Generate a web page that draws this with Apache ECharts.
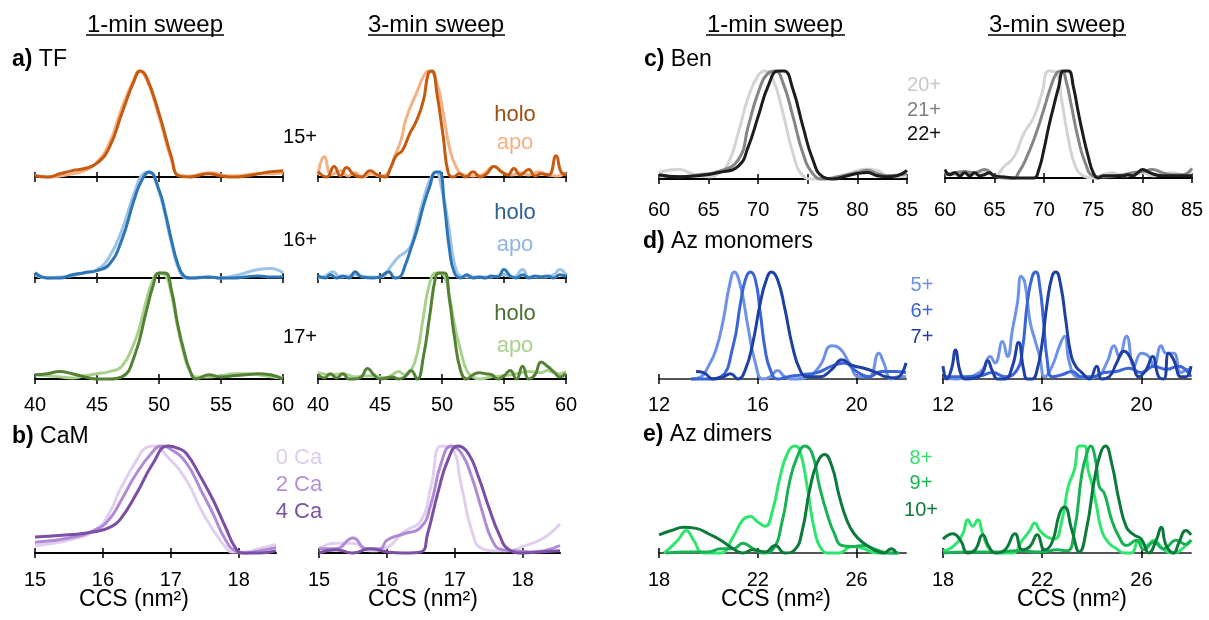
<!DOCTYPE html>
<html>
<head>
<meta charset="utf-8">
<script src="https://cdn.jsdelivr.net/npm/echarts@6/dist/echarts.min.js"></script>
<style>
  html, body { margin: 0; padding: 0; background: #fff; }
  #main { width: 1209px; height: 620px; }
</style>
</head>
<body>
<div id="main"></div>
<script>
// ---- data: [CCS, normalised intensity] ----
// a) TF, 15+
var tf15_1min_apo = [[40,0.02],[41,0.0],[42,0.01],[43,0.03],[44,0.06],[45,0.14],[46,0.32],[47,0.65],[48,0.93],[48.4,1.0],[49,0.92],[50,0.57],[51,0.16],[51.6,0.02],[52.5,0.01],[53.5,0.03],[54.3,0.04],[55,0.02],[56,0.01],[57,0.02],[58,0.03],[59,0.03],[60,0.04]];
var tf15_1min_holo = [[40,0.01],[41,0.0],[42,0.03],[43,0.06],[44,0.08],[45,0.13],[46,0.28],[47,0.6],[48,0.91],[48.5,1.0],[49,0.94],[50,0.6],[51,0.19],[51.6,0.01],[52.5,0.0],[53,0.01],[54,0.03],[55,0.01],[56,0.0],[57,0.01],[58,0.03],[59,0.05],[60,0.06]];
var tf15_3min_apo = [[40,0.02],[40.5,0.19],[41.1,0.02],[41.8,0.06],[42.4,0.01],[43.0,0.04],[43.6,0.0],[44.3,0.03],[45.0,0.01],[45.7,0.05],[46.2,0.2],[46.7,0.35],[47.1,0.55],[47.9,0.78],[48.6,0.97],[49.0,1.0],[49.6,0.88],[50.1,0.6],[50.6,0.28],[51.2,0.08],[51.8,0.02],[52.5,0.01],[53.2,0.02],[54.2,0.1],[54.9,0.04],[55.6,0.02],[56.3,0.04],[57.0,0.02],[57.8,0.05],[58.5,0.02],[59.3,0.01],[60,0.04]];
var tf15_3min_holo = [[40,0.05],[40.7,0.0],[41.3,0.1],[41.8,0.01],[42.3,0.09],[42.9,0.02],[43.5,0.0],[44.2,0.06],[44.8,0.02],[45.4,0.0],[45.9,0.1],[46.3,0.2],[46.8,0.25],[47.4,0.41],[47.9,0.52],[48.5,0.72],[48.9,0.98],[49.2,1.0],[49.6,0.78],[50.1,0.38],[50.5,0.04],[50.9,0.0],[51.4,0.03],[51.9,0.0],[52.5,0.05],[53.1,0.0],[53.6,0.03],[54.2,0.1],[54.8,0.05],[55.3,0.02],[55.8,0.08],[56.3,0.02],[57.0,0.07],[57.5,0.01],[58.0,0.03],[58.6,0.02],[59.2,0.2],[59.6,0.05],[60,0.02]];
// a) TF, 16+
var tf16_1min_apo = [[40,0.03],[41,0.0],[42,0.01],[43,0.02],[44,0.05],[45,0.08],[46,0.2],[47,0.45],[48,0.8],[48.8,0.99],[49.2,1.0],[50,0.82],[51,0.33],[51.7,0.05],[52.3,0.0],[53,0.0],[54,0.01],[55,0.0],[56,0.02],[57,0.05],[58,0.08],[59,0.09],[60,0.05]];
var tf16_1min_holo = [[40,0.05],[41,0.0],[42,0.0],[43,0.03],[44,0.05],[45,0.07],[46,0.13],[47,0.36],[48,0.74],[48.6,0.92],[49.2,1.0],[50,0.83],[50.5,0.62],[51,0.36],[51.5,0.14],[52,0.02],[52.5,0.0],[54,0.01],[55,0.0],[56,0.0],[57,0.01],[58,0.02],[59,0.01],[60,0.01]];
var tf16_3min_apo = [[40,0.0],[40.6,0.02],[41.2,0.06],[41.8,0.01],[42.5,0.02],[43,0.03],[44,0.01],[45,0.01],[46,0.13],[46.5,0.2],[47,0.24],[47.5,0.31],[48,0.52],[48.5,0.74],[49,0.92],[49.5,1.0],[50,0.83],[50.5,0.52],[51,0.14],[51.5,0.02],[52,0.01],[53,0.01],[54,0.01],[55,0.03],[55.8,0.01],[56.5,0.08],[57,0.01],[58,0.01],[59,0.03],[59.5,0.08],[60,0.03]];
var tf16_3min_holo = [[40,0.02],[40.6,0.0],[41,0.03],[41.5,0.0],[42,0.02],[42.5,0.0],[43,0.06],[43.5,0.01],[44.5,0.0],[45,0.01],[45.7,0.06],[46.2,0.0],[46.6,0.01],[47,0.11],[47.5,0.28],[48,0.46],[48.5,0.68],[49,0.86],[49.5,1.0],[49.8,1.0],[50.2,0.68],[50.6,0.27],[51,0.05],[51.5,0.0],[52,0.03],[52.5,0.0],[53,0.01],[53.5,0.0],[54,0.02],[54.5,0.01],[55,0.08],[55.5,0.02],[56,0.0],[56.5,0.03],[57,0.0],[57.5,0.02],[58,0.01],[58.5,0.02],[59,0.0],[59.5,0.03],[60,0.01]];
// a) TF, 17+
var tf17_1min_apo = [[40,0.04],[41,0.03],[42,0.02],[43,0.01],[44,0.03],[45,0.05],[46,0.07],[47,0.12],[48,0.34],[48.5,0.52],[49,0.75],[49.5,0.93],[50,1.0],[50.5,0.98],[51,0.8],[51.5,0.49],[52,0.24],[52.5,0.07],[53,0.02],[54,0.02],[55,0.03],[56,0.05],[57,0.05],[58,0.04],[59,0.02],[60,0.01]];
var tf17_1min_holo = [[40,0.04],[41,0.05],[42,0.07],[43,0.05],[44,0.02],[45,0.0],[46,0.0],[47,0.02],[48,0.21],[49,0.65],[49.5,0.87],[50,1.0],[50.5,1.0],[51,0.84],[51.5,0.52],[52,0.27],[52.5,0.08],[53,0.0],[54,0.04],[55,0.02],[56,0.03],[57,0.04],[58,0.05],[59,0.04],[60,0.0]];
var tf17_3min_apo = [[40,0.06],[41,0.04],[42,0.05],[43,0.02],[44,0.03],[45,0.02],[45.5,0.01],[46,0.04],[46.5,0.07],[47,0.04],[47.5,0.08],[48,0.24],[48.5,0.59],[49,0.9],[49.5,1.0],[49.8,1.0],[50.2,0.97],[50.6,0.78],[51,0.52],[51.5,0.27],[52,0.08],[52.5,0.02],[53,0.0],[54,0.02],[55,0.03],[56,0.05],[57,0.07],[58,0.06],[58.5,0.08],[59,0.06],[59.5,0.05],[60,0.07]];
var tf17_3min_holo = [[40,0.04],[40.5,0.01],[41,0.05],[41.5,0.01],[42,0.05],[42.5,0.0],[43,0.0],[43.5,0.02],[44,0.1],[44.5,0.04],[45,0.0],[46,0.02],[46.5,0.0],[47,0.02],[47.5,0.08],[48,0.0],[48.5,0.21],[49,0.59],[49.5,0.97],[49.8,1.0],[50.2,1.0],[50.6,0.75],[51,0.4],[51.5,0.08],[52,0.0],[52.5,0.04],[53,0.06],[53.5,0.05],[54,0.04],[54.5,0.0],[55,0.03],[55.5,0.08],[56,0.0],[56.5,0.12],[57,0.0],[57.5,0.04],[58,0.16],[58.5,0.12],[59,0.07],[59.5,0.02],[60,0.05]];
// b) CaM
var cam0_1min = [[15,0.07],[15.5,0.12],[15.9,0.22],[16.1,0.38],[16.25,0.59],[16.5,0.87],[16.65,0.99],[16.75,1.0],[16.95,0.9],[17.23,0.68],[17.45,0.4],[17.62,0.22],[17.8,0.06],[17.9,0.01],[18.1,0.01],[18.3,0.04],[18.55,0.08]];
var cam2_1min = [[15,0.1],[15.5,0.14],[15.9,0.22],[16.1,0.32],[16.25,0.47],[16.5,0.75],[16.74,0.95],[16.85,1.0],[17.0,0.97],[17.23,0.84],[17.45,0.58],[17.62,0.37],[17.8,0.13],[17.95,0.02],[18.1,0.0],[18.3,0.02],[18.55,0.05]];
var cam4_1min = [[15,0.15],[15.5,0.17],[15.9,0.2],[16.1,0.24],[16.25,0.31],[16.5,0.56],[16.74,0.84],[16.96,1.0],[17.1,0.98],[17.23,0.93],[17.45,0.7],[17.62,0.5],[17.8,0.25],[17.95,0.05],[18.05,0.0],[18.3,0.0],[18.55,0.02]];
var cam0_3min = [[15,0.04],[15.25,0.09],[15.5,0.09],[15.75,0.02],[16,0.05],[16.25,0.2],[16.5,0.3],[16.65,0.62],[16.8,1.0],[16.95,0.98],[17.1,0.62],[17.25,0.21],[17.4,0.04],[17.6,0.02],[17.8,0.02],[18,0.06],[18.25,0.12],[18.4,0.18],[18.55,0.27]];
var cam2_3min = [[15,0.04],[15.25,0.04],[15.5,0.14],[15.7,0.04],[15.9,0.04],[16,0.12],[16.25,0.18],[16.5,0.24],[16.65,0.46],[16.8,0.84],[16.95,1.0],[17.1,0.93],[17.25,0.71],[17.4,0.4],[17.55,0.12],[17.7,0.03],[17.9,0.02],[18.1,0.01],[18.3,0.02],[18.55,0.07]];
var cam4_3min = [[15,0.0],[15.25,0.03],[15.5,0.0],[15.75,0.04],[16,0.01],[16.25,0.0],[16.5,0.01],[16.6,0.18],[16.75,0.56],[16.9,0.87],[17.05,1.0],[17.2,0.93],[17.35,0.71],[17.5,0.43],[17.65,0.18],[17.8,0.03],[18,0.0],[18.25,0.01],[18.55,0.02]];
// c) Ben
var ben20_1min = [[60,0.06],[62,0.09],[63,0.06],[64,0.03],[65,0.02],[66,0.05],[67,0.15],[68,0.43],[69,0.76],[70,0.96],[70.7,1.0],[71.5,0.92],[72.5,0.61],[73.5,0.24],[74.5,0.03],[75.5,0.0],[77,0.0],[79,0.05],[81,0.09],[82,0.08],[83,0.03],[84,0.02],[85,0.03]];
var ben21_1min = [[60,0.03],[62,0.02],[64,0.04],[66,0.07],[68,0.18],[69,0.49],[70,0.8],[71,0.98],[71.7,1.0],[72.5,0.89],[73.5,0.58],[74.5,0.24],[75.5,0.05],[76.5,0.0],[78,0.02],[80,0.06],[81,0.08],[82,0.05],[83,0.03],[85,0.05]];
var ben22_1min = [[60,0.04],[62,0.02],[64,0.03],[66,0.06],[68,0.12],[69,0.3],[70,0.58],[71,0.86],[72,1.0],[72.6,1.0],[73.5,0.83],[74.5,0.49],[75.5,0.18],[76.5,0.02],[77.5,0.0],[79,0.03],[80,0.05],[81,0.06],[82,0.03],[83,0.02],[84,0.03],[85,0.08]];
var ben20_3min = [[60,0.05],[61,0.03],[62,0.05],[63,0.03],[64,0.05],[65,0.02],[66,0.11],[67,0.2],[68,0.42],[69,0.57],[69.8,0.79],[70.5,1.0],[71.2,0.99],[71.8,0.73],[72.5,0.36],[73.2,0.11],[74,0.02],[75,0.0],[76,0.03],[77,0.05],[78,0.02],[79,0.03],[80,0.05],[81,0.02],[82,0.03],[83,0.05],[84,0.03],[85,0.05]];
var ben21_3min = [[60,0.03],[61,0.05],[62,0.06],[63,0.05],[64,0.08],[65,0.02],[66,0.0],[67,0.0],[67.5,0.06],[68,0.14],[69,0.36],[70,0.64],[70.7,0.85],[71.3,0.98],[71.8,1.0],[72.3,0.89],[72.8,0.67],[73.5,0.36],[74.2,0.14],[75,0.02],[76,0.01],[78,0.03],[79,0.05],[80,0.06],[81,0.08],[82,0.05],[83,0.03],[84,0.03],[85,0.09]];
var ben22_3min = [[60,0.08],[60.5,0.03],[61,0.05],[61.5,0.02],[62,0.05],[62.5,0.02],[63,0.05],[63.5,0.02],[64,0.03],[64.5,0.05],[65,0.02],[66,0.01],[67,0.0],[68,0.0],[69,0.0],[69.5,0.08],[70,0.26],[70.5,0.48],[71,0.67],[71.5,0.85],[72,1.0],[72.5,1.0],[73,0.85],[73.5,0.61],[74,0.39],[74.5,0.2],[75,0.05],[75.5,0.0],[76,0.02],[77,0.02],[78,0.02],[78.5,0.03],[79,0.02],[79.5,0.05],[80,0.08],[80.5,0.06],[81,0.04],[82,0.02],[83,0.02],[84,0.02],[85,0.02]];
// d) Az monomers
var az5_1min = [[13.3,0.0],[13.7,0.02],[14,0.12],[14.3,0.27],[14.6,0.55],[14.85,0.87],[15.05,1.0],[15.3,0.87],[15.6,0.49],[15.9,0.15],[16.2,0.0],[16.5,0.02],[16.8,0.08],[17.1,0.02],[17.5,0.0],[18,0.02],[18.5,0.12],[19,0.31],[19.3,0.29],[19.7,0.15],[20.1,0.02],[20.5,0.02],[20.9,0.24],[21.1,0.15],[21.4,0.0],[21.7,0.02],[22,0.02]];
var az6_1min = [[13.3,0.0],[14,0.0],[14.5,0.02],[15,0.31],[15.3,0.71],[15.5,0.93],[15.7,1.0],[15.9,0.93],[16.1,0.62],[16.3,0.27],[16.5,0.09],[16.8,0.0],[17.2,0.02],[17.8,0.04],[18.4,0.06],[19,0.12],[19.5,0.15],[20,0.07],[20.5,0.02],[21,0.07],[21.5,0.07],[22,0.06]];
var az7_1min = [[13.5,0.07],[13.8,0.06],[14.2,0.0],[14.6,0.02],[14.9,0.05],[15.2,0.0],[15.5,0.09],[15.8,0.34],[16.1,0.71],[16.35,0.93],[16.55,1.0],[16.8,0.93],[17.1,0.65],[17.4,0.31],[17.7,0.09],[18,0.02],[18.5,0.02],[19,0.09],[19.4,0.18],[19.8,0.13],[20.3,0.1],[20.8,0.06],[21.2,0.02],[21.6,0.01],[22,0.15]];
var az5_3min = [[12,0.02],[12.5,0.0],[13,0.02],[13.3,0.04],[13.6,0.09],[13.9,0.21],[14.1,0.15],[14.4,0.35],[14.6,0.21],[14.8,0.46],[15.0,0.71],[15.15,0.96],[15.3,0.9],[15.5,0.55],[15.7,0.37],[15.9,0.21],[16.1,0.02],[16.4,0.12],[16.7,0.31],[16.9,0.4],[17.1,0.15],[17.4,0.02],[17.8,0.01],[18.2,0.02],[18.6,0.15],[18.9,0.31],[19.1,0.21],[19.4,0.4],[19.7,0.12],[20.0,0.24],[20.3,0.21],[20.5,0.12],[20.8,0.31],[21.0,0.24],[21.3,0.24],[21.6,0.06],[21.9,0.09],[22,0.09]];
var az6_3min = [[12,0.02],[13,0.02],[13.5,0.03],[14,0.06],[14.5,0.02],[15,0.09],[15.2,0.27],[15.4,0.71],[15.6,0.96],[15.75,1.0],[15.9,0.87],[16.05,0.55],[16.2,0.18],[16.4,0.02],[16.8,0.04],[17.2,0.07],[17.6,0.02],[18,0.02],[18.5,0.06],[19,0.07],[19.5,0.1],[20,0.06],[20.5,0.12],[21,0.09],[21.5,0.12],[22,0.02]];
var az7_3min = [[12,0.12],[12.15,0.0],[12.35,0.1],[12.5,0.27],[12.7,0.06],[12.9,0.0],[13.3,0.01],[13.6,0.06],[13.8,0.17],[14.0,0.07],[14.2,0.0],[14.5,0.0],[14.8,0.12],[15.05,0.34],[15.25,0.09],[15.4,0.0],[15.6,0.0],[15.8,0.09],[16.0,0.34],[16.2,0.71],[16.4,0.96],[16.55,1.0],[16.75,0.87],[16.95,0.55],[17.15,0.24],[17.35,0.12],[17.6,0.06],[17.9,0.0],[18.2,0.12],[18.4,0.0],[18.7,0.02],[19.0,0.15],[19.3,0.26],[19.6,0.18],[19.9,0.02],[20.2,0.09],[20.45,0.21],[20.7,0.02],[20.9,0.0],[21.1,0.24],[21.3,0.18],[21.6,0.02],[21.8,0.02],[22,0.12]];
// e) Az dimers
var az8_1min = [[18.2,0.0],[18.5,0.06],[18.8,0.13],[19.1,0.21],[19.4,0.12],[19.8,0.0],[20.5,0.0],[21,0.15],[21.4,0.31],[21.7,0.34],[22,0.29],[22.3,0.25],[22.6,0.4],[22.9,0.71],[23.2,0.93],[23.5,1.0],[23.7,0.96],[24,0.62],[24.3,0.21],[24.6,0.03],[24.9,0.0],[25.3,0.0],[25.8,0.06],[26.3,0.04],[26.8,0.0],[27.3,0.0],[27.7,0.0]];
var az9_1min = [[18.3,0.0],[19,0.01],[20,0.01],[20.5,0.04],[21,0.04],[21.4,0.09],[21.8,0.04],[22.2,0.0],[22.6,0.03],[23.0,0.31],[23.3,0.68],[23.6,0.9],[23.9,1.0],[24.2,0.93],[24.5,0.62],[24.8,0.37],[25.1,0.18],[25.4,0.07],[25.8,0.06],[26.3,0.07],[26.8,0.03],[27.3,0.0],[27.7,0.0]];
var az10_1min = [[18,0.17],[18.5,0.21],[19,0.24],[19.5,0.23],[20,0.18],[20.5,0.12],[21,0.04],[21.4,0.0],[21.8,0.03],[22.3,0.01],[22.7,0.07],[23.1,0.0],[23.5,0.03],[23.8,0.21],[24.1,0.59],[24.4,0.84],[24.7,0.92],[25.0,0.81],[25.3,0.53],[25.6,0.31],[25.9,0.18],[26.3,0.09],[26.7,0.03],[27.1,0.0],[27.4,0.04],[27.6,0.0]];
var az8_3min = [[18,0.02],[18.4,0.06],[18.8,0.18],[19.0,0.31],[19.2,0.25],[19.4,0.31],[19.6,0.18],[19.9,0.03],[20.3,0.0],[20.8,0.0],[21.2,0.12],[21.5,0.21],[21.7,0.28],[21.9,0.21],[22.2,0.15],[22.5,0.13],[22.8,0.31],[23.05,0.62],[23.3,0.78],[23.5,1.0],[23.7,1.0],[23.85,0.78],[24.0,0.65],[24.2,0.43],[24.4,0.21],[24.7,0.09],[25.0,0.04],[25.3,0.0],[25.6,0.0],[25.9,0.12],[26.2,0.07],[26.5,0.12],[26.9,0.03],[27.3,0.0],[27.6,0.03],[27.9,0.1],[28,0.12]];
var az9_3min = [[18,0.0],[19,0.01],[20,0.01],[21,0.02],[22,0.01],[22.6,0.03],[23.0,0.02],[23.3,0.21],[23.6,0.74],[23.8,0.93],[23.95,1.0],[24.15,0.87],[24.3,0.62],[24.5,0.56],[24.8,0.31],[25.1,0.15],[25.4,0.07],[25.8,0.12],[26.1,0.03],[26.5,0.1],[26.9,0.04],[27.4,0.12],[27.8,0.08],[28,0.12]];
var az10_3min = [[18,0.13],[18.4,0.18],[18.7,0.12],[19.0,0.0],[19.3,0.03],[19.6,0.17],[19.85,0.06],[20.1,0.0],[20.5,0.03],[20.9,0.18],[21.2,0.03],[21.5,0.06],[21.8,0.17],[22.1,0.03],[22.4,0.1],[22.7,0.37],[22.9,0.43],[23.2,0.21],[23.5,0.01],[23.8,0.24],[24.1,0.68],[24.35,0.93],[24.55,1.0],[24.8,0.84],[25.1,0.49],[25.4,0.24],[25.7,0.17],[26.0,0.13],[26.3,0.0],[26.6,0.12],[26.8,0.24],[27.0,0.07],[27.3,0.0],[27.5,0.09],[27.8,0.21],[28,0.17]];

// tick values per axis
var tfTicks = [40, 45, 50, 55, 60];
var camTicks = [15, 16, 17, 18];
var benTicks = [60, 65, 70, 75, 80, 85];
var azMonoTicks = [12, 16, 20];
var azDimTicks = [18, 22, 26];

var chart = echarts.init(document.getElementById('main'));
var FONT = '"Liberation Sans", Arial, sans-serif';

var grids = [], xAxes = [], yAxes = [], series = [];

// one small plot: box = [left, top, width, height]
function panel(box, range, ticks, labelMargin, axisColor, lines) {
    var g = grids.length;
    grids.push({ left: box[0], top: box[1], width: box[2], height: box[3] });
    var tickStyle = { color: '#000', width: 1.5 };
    var xi = xAxes.length;
    xAxes.push({
        gridIndex: g, type: 'value', min: range[0], max: range[1], position: 'bottom',
        axisLine: { show: true, onZero: false, lineStyle: { color: axisColor, width: 2 } },
        axisTick: { show: true, length: 5, customValues: ticks, lineStyle: tickStyle },
        axisLabel: { show: labelMargin > 0, customValues: ticks, margin: labelMargin, color: '#000', fontSize: 20, fontFamily: FONT },
        splitLine: { show: false }
    });
    // second axis only for the upward half of the crossing ticks
    xAxes.push({
        gridIndex: g, type: 'value', min: range[0], max: range[1], position: 'bottom',
        axisLine: { show: false },
        axisTick: { show: true, inside: true, length: 5, customValues: ticks, lineStyle: tickStyle },
        axisLabel: { show: false },
        splitLine: { show: false }
    });
    yAxes.push({ gridIndex: g, type: 'value', min: 0, max: 1, show: false });
    lines.forEach(function (l) {
        series.push({
            type: 'line', xAxisIndex: xi, yAxisIndex: g, data: l[0],
            smooth: 0.5, showSymbol: false, symbol: 'none',
            clip: false, silent: true,
            lineStyle: { color: l[1], width: 3 }
        });
    });
}

// a) TF
panel([35, 71, 248, 106], [40, 60], tfTicks, 0, '#000', [[tf15_1min_apo, '#f4b183'], [tf15_1min_holo, '#c55a11']]);
panel([35, 172, 248, 106], [40, 60], tfTicks, 0, '#000', [[tf16_1min_apo, '#9dc3e6'], [tf16_1min_holo, '#2e75b6']]);
panel([35, 273, 248, 106], [40, 60], tfTicks, 16, '#000', [[tf17_1min_apo, '#a9d18e'], [tf17_1min_holo, '#548235']]);
panel([318, 71, 248, 106], [40, 60], tfTicks, 0, '#000', [[tf15_3min_apo, '#f4b183'], [tf15_3min_holo, '#c55a11']]);
panel([318, 172, 248, 106], [40, 60], tfTicks, 0, '#000', [[tf16_3min_apo, '#9dc3e6'], [tf16_3min_holo, '#2e75b6']]);
panel([318, 273, 248, 106], [40, 60], tfTicks, 16, '#000', [[tf17_3min_apo, '#a9d18e'], [tf17_3min_holo, '#548235']]);
// b) CaM
panel([35, 446, 241, 107], [15, 18.55], camTicks, 17, '#000', [[cam0_1min, '#e2cff0'], [cam2_1min, '#b08ad6'], [cam4_1min, '#7b4fa3']]);
panel([319, 446, 241, 107], [15, 18.55], camTicks, 17, '#000', [[cam0_3min, '#e2cff0'], [cam2_3min, '#b08ad6'], [cam4_3min, '#7b4fa3']]);
// c) Ben
panel([659, 71, 248, 108], [60, 85], benTicks, 21, '#000', [[ben20_1min, '#d4d4d4'], [ben21_1min, '#858585'], [ben22_1min, '#1c1c1c']]);
panel([945, 71, 247, 107], [60, 85], benTicks, 22, '#000', [[ben20_3min, '#d4d4d4'], [ben21_3min, '#858585'], [ben22_3min, '#1c1c1c']]);
// d) Az monomers
panel([659, 272, 247, 107], [12, 22], azMonoTicks, 16, '#555', [[az5_1min, '#6e92e8'], [az6_1min, '#3a64d8'], [az7_1min, '#1e3fa3']]);
panel([943, 272, 248, 107], [12, 22], azMonoTicks, 16, '#555', [[az5_3min, '#6e92e8'], [az6_3min, '#3a64d8'], [az7_3min, '#1e3fa3']]);
// e) Az dimers
panel([659, 446, 247, 107], [18, 28], azDimTicks, 17, '#555', [[az8_1min, '#2ee66e'], [az9_1min, '#18b255'], [az10_1min, '#0c7a3a']]);
panel([943, 446, 248, 107], [18, 28], azDimTicks, 17, '#555', [[az8_3min, '#2ee66e'], [az9_3min, '#18b255'], [az10_3min, '#0c7a3a']]);

// texts
var graphics = [];
function txt(x, y, text, size, color, align) {
    graphics.push({
        type: 'text', x: x, y: y, silent: true,
        style: {
            text: text, fill: color || '#000', font: size + 'px ' + FONT,
            align: align || 'center', verticalAlign: 'middle',
            rich: { b: { fontWeight: 'bold', fontSize: size, fontFamily: FONT, fill: color || '#000' } }
        }
    });
}
function underline(x1, x2, y) {
    graphics.push({ type: 'line', silent: true, shape: { x1: x1, y1: y, x2: x2, y2: y }, style: { stroke: '#000', lineWidth: 1.5 } });
}

txt(155, 25, '1-min sweep', 24); underline(86, 224, 35);
txt(436, 25, '3-min sweep', 24); underline(368, 505, 35);
txt(775, 25, '1-min sweep', 24); underline(706, 845, 35);
txt(1057, 25, '3-min sweep', 24); underline(988, 1126, 35);

txt(12, 60, '{b|a)} TF', 23, '#000', 'left');
txt(12, 437, '{b|b)} CaM', 23, '#000', 'left');
txt(644, 60, '{b|c)} Ben', 23, '#000', 'left');
txt(643, 242, '{b|d)} Az monomers', 23, '#000', 'left');
txt(643, 435, '{b|e)} Az dimers', 23, '#000', 'left');

txt(300, 137, '15+', 20); txt(300, 240, '16+', 20); txt(300, 337, '17+', 20);
txt(515, 115, 'holo', 22, '#a04d12'); txt(515, 143, 'apo', 22, '#f4b183');
txt(515, 213, 'holo', 22, '#2c5f92'); txt(515, 245, 'apo', 22, '#92b4e2');
txt(515, 314, 'holo', 22, '#4a6e2e'); txt(515, 346, 'apo', 22, '#a9d18e');

txt(299, 458, '0 Ca', 22, '#e0ccee'); txt(299, 485, '2 Ca', 22, '#b48fd8'); txt(299, 512, '4 Ca', 22, '#7a52a0');
txt(924, 85, '20+', 20, '#c8c8c8'); txt(924, 110, '21+', 20, '#7f7f7f'); txt(924, 134, '22+', 20, '#111');
txt(922, 285, '5+', 20, '#6d8fe8'); txt(922, 311, '6+', 20, '#3b63d6'); txt(922, 337, '7+', 20, '#1f3ea0');
txt(921, 458, '8+', 20, '#33e06a'); txt(921, 483, '9+', 20, '#1ab552'); txt(921, 510, '10+', 20, '#0f7a3c');

txt(134, 600, 'CCS (nm²)', 23); txt(423, 600, 'CCS (nm²)', 23);
txt(776, 600, 'CCS (nm²)', 23); txt(1072, 600, 'CCS (nm²)', 23);

chart.setOption({
    animation: false,
    grid: grids,
    xAxis: xAxes,
    yAxis: yAxes,
    series: series,
    graphic: graphics
});
</script>
</body>
</html>
